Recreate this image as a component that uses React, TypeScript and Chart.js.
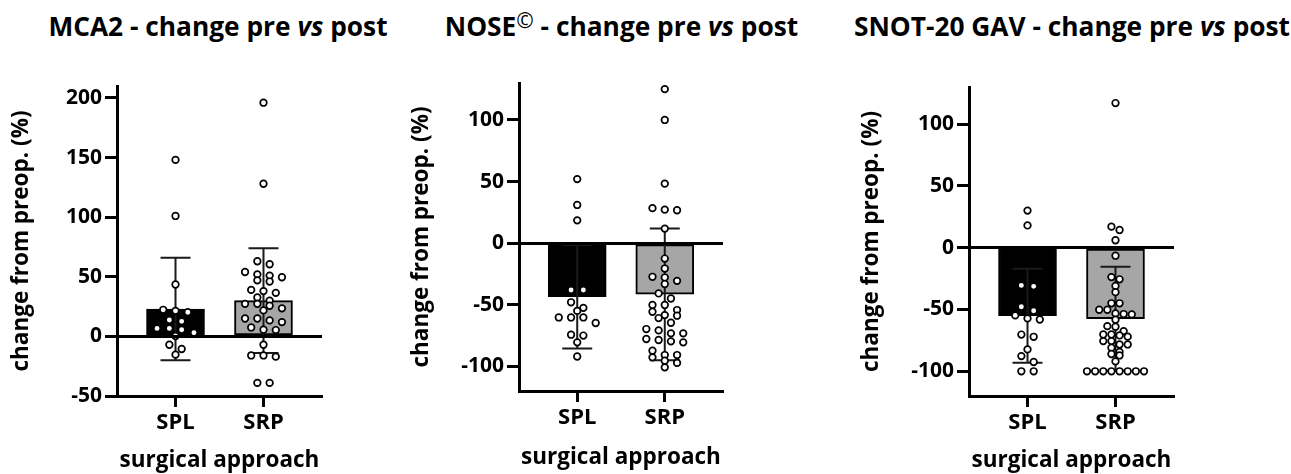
import React, { useEffect, useRef } from 'react';
import { Chart, registerables } from 'chart.js';

Chart.register(...registerables);

// ---------- data ----------
const categories = ['SPL', 'SRP'];
const xAxisTitle = 'surgical approach';
const yAxisTitle = 'change from preop. (%)';

// MCA2
const mca2Means = [23, 30];
const mca2Sds = [43, 44];
const mca2Spl = [148, 101, 43.5, 22.3, 21.4, 20.3, 13.7, 12.6, 6.7, 6.7, 5.6, 3.1, 0.3, -7, -10.6, -15.3];
const mca2Srp = [196, 128, 63, 60.5, 54, 52, 51, 49.6, 47, 46, 39, 38, 36.5, 32.6, 30, 27.3, 27.3, 25.7, 23.5, 21.8, 15, 15, 13.4, 12, 7.5, 5.6, 5.3, -7, -16, -16, -17, -39, -39];
const mca2Ticks = [-50, 0, 50, 100, 150, 200];

// NOSE
const noseMeans = [-43.5, -41.5];
const noseSds = [42, 53.5];
const noseSpl = [52, 31, 18.5, -38, -38, -48, -52.5, -55, -60.3, -60.3, -60.3, -64.8, -74.3, -75, -80.5, -92];
const noseSrp = [125, 100, 48.3, 28.4, 27.2, 26.7, 11.8, -12.5, -20.6, -27.3, -27.9, -30.6, -33.2, -40.8, -44.9, -50.2, -50.2, -54.3, -55.7, -58.4, -58.9, -60.8, -64.6, -69.7, -70.8, -73.2, -73.2, -77.8, -78.6, -79.7, -80.5, -87.3, -90.8, -90.8, -92.7, -95.4, -97.2, -100.8];
const noseTicks = [-100, -50, 0, 50, 100];

// SNOT-20 GAV
const snotMeans = [-55, -57.5];
const snotSds = [38, 42];
const snotSpl = [30, 18, -30.5, -31.3, -47.8, -51, -54.8, -57.2, -58.1, -70.3, -72.1, -82.3, -87.7, -92.5, -100, -100];
const snotSrp = [117, 17, 14.3, 6, -6.5, -23.8, -25.6, -31, -36, -45, -45, -50.2, -50.2, -53.2, -53.7, -54, -58.3, -63.5, -64, -67.5, -70.2, -70.2, -71, -72, -75.6, -75.6, -78.3, -78.3, -81, -84.3, -86, -87.2, -92, -100, -100, -100, -100, -100, -100, -100, -100];
const snotTicks = [-100, -50, 0, 50, 100];

// ---------- styling ----------
const FONT = "'Open Sans', 'Noto Sans', sans-serif";
const Y_AXIS_W = 117;
const CANVAS_TOP = 50;
const CANVAS_H = 424;
const RIGHT_PAD = 25;

type Area = { left: number; top: number; right: number; bottom: number };
type Spec = {
  key: string;
  title: React.ReactNode;
  titleCenter: number;
  area: Area;
  yMin: number;
  yMax: number;
  yTicks: number[];
  means: number[];
  sds: number[];
  groups: number[][];
  xTitlePad: number;
  yTitlePad: number;
};

const vs = <i>vs</i>;

const specs: Spec[] = [
  {
    key: 'mca2',
    title: <>MCA2 - change pre {vs} post</>,
    titleCenter: 218,
    area: { left: 117, top: 86, right: 322, bottom: 396 },
    yMin: -50, yMax: 210, yTicks: mca2Ticks,
    means: mca2Means, sds: mca2Sds, groups: [mca2Spl, mca2Srp],
    xTitlePad: 0, yTitlePad: 8,
  },
  {
    key: 'nose',
    title: <>NOSE<span style={{ fontSize: '0.8em', fontWeight: 400, verticalAlign: '0.38em', lineHeight: 0 }}>©</span> - change pre {vs} post</>,
    titleCenter: 621.5,
    area: { left: 519, top: 83, right: 723, bottom: 391 },
    yMin: -120, yMax: 130, yTicks: noseTicks,
    means: noseMeans, sds: noseSds, groups: [noseSpl, noseSrp],
    xTitlePad: 3, yTitlePad: 6,
  },
  {
    key: 'snot',
    title: <>SNOT-20 GAV - change pre {vs} post</>,
    titleCenter: 1072,
    area: { left: 969, top: 87, right: 1174, bottom: 396 },
    yMin: -120, yMax: 130, yTicks: snotTicks,
    means: snotMeans, sds: snotSds, groups: [snotSpl, snotSrp],
    xTitlePad: 0, yTitlePad: 6,
  },
];

const errorBarPlugin = {
  id: 'errorBars',
  afterDatasetDraw(chart: any, args: any, opts: any) {
    if (args.index !== 0) return;
    const meta = chart.getDatasetMeta(0);
    const ds = chart.data.datasets[0];
    const ys = chart.scales.y;
    const ctx = chart.ctx;
    ctx.save();
    ctx.strokeStyle = '#1a1a1a';
    ctx.lineWidth = 2;
    meta.data.forEach((bar: any, i: number) => {
      const m = ds.data[i].y;
      const sd = opts.sds[i];
      const x = bar.x;
      const yTop = ys.getPixelForValue(m + sd);
      const yBot = ys.getPixelForValue(m - sd);
      const half = 15;
      ctx.beginPath();
      ctx.moveTo(x, yTop);
      ctx.lineTo(x, yBot);
      ctx.moveTo(x - half, yTop);
      ctx.lineTo(x + half, yTop);
      ctx.moveTo(x - half, yBot);
      ctx.lineTo(x + half, yBot);
      ctx.stroke();
    });
    ctx.restore();
  },
};

const ROW_TOL = 6;
function layoutSwarm(chart: any, groups: number[][]) {
  const ys = chart.scales.y;
  const xs = chart.scales.x;
  const unit = xs.getPixelForValue(2) - xs.getPixelForValue(1);
  const out: { x: number; y: number }[] = [];
  groups.forEach((vals, gi) => {
    const sorted = vals
      .map((v) => ({ v, py: ys.getPixelForValue(v) }))
      .sort((a, b) => a.py - b.py);
    const rows: { v: number; py: number }[][] = [];
    sorted.forEach((p) => {
      const r = rows[rows.length - 1];
      if (r && p.py - r[0].py < ROW_TOL) r.push(p);
      else rows.push([p]);
    });
    const maxN = Math.max(...rows.map((r) => r.length));
    const s = maxN > 1 ? Math.min(12.3, 57 / (maxN - 1)) : 12.3;
    rows.forEach((r) =>
      r.forEach((p, i) => {
        out.push({ x: gi + 1 + ((i - (r.length - 1) / 2) * s) / unit, y: p.v });
      })
    );
  });
  return out;
}

function buildConfig(p: Spec): any {
  const font = (size: number) => ({ family: FONT, size, weight: 'bold' as const });
  return {
    type: 'bar',
    data: {
      datasets: [
        {
          type: 'bar',
          data: categories.map((_, i) => ({ x: i + 1, y: p.means[i] })),
          backgroundColor: ['#000000', '#a6a6a6'],
          borderColor: '#000000',
          borderWidth: 2,
          borderSkipped: false,
          barThickness: 58,
          order: 2,
        },
        {
          type: 'scatter',
          data: p.groups.flatMap((g, gi) => g.map((v) => ({ x: gi + 1, y: v }))),
          pointRadius: 3.3,
          pointHoverRadius: 3.3,
          pointBorderWidth: 1.7,
          pointBackgroundColor: '#ffffff',
          pointBorderColor: '#000000',
          clip: false,
          order: 1,
        },
      ],
    },
    options: {
      responsive: false,
      animation: false,
      events: [],
      layout: { padding: { top: p.area.top - CANVAS_TOP, right: RIGHT_PAD, left: 0, bottom: 0 } },
      plugins: {
        legend: { display: false },
        tooltip: { enabled: false },
        errorBars: { sds: p.sds },
      },
      scales: {
        x: {
          type: 'linear',
          min: 0.335,
          max: 2.665,
          offset: false,
          afterBuildTicks: (axis: any) => {
            axis.ticks = categories.map((_, i) => ({ value: i + 1 }));
          },
          afterFit: (s: any) => {
            s.height = CANVAS_H - (p.area.bottom - CANVAS_TOP);
          },
          ticks: {
            callback: (v: number) => categories[Math.round(v) - 1] ?? '',
            font: font(22),
            color: '#000',
            padding: 3,
            maxRotation: 0,
            autoSkip: false,
          },
          grid: {
            offset: false,
            color: 'rgba(0,0,0,0)',
            tickColor: '#000',
            tickLength: 11,
            tickWidth: 3,
            lineWidth: 1,
          },
          border: { display: true, color: '#000', width: 3 },
          title: {
            display: true,
            text: xAxisTitle,
            font: font(22.5),
            color: '#000',
            padding: { top: 0, bottom: p.xTitlePad },
          },
        },
        y: {
          type: 'linear',
          min: p.yMin,
          max: p.yMax,
          afterBuildTicks: (axis: any) => {
            axis.ticks = p.yTicks.map((v) => ({ value: v }));
          },
          afterFit: (s: any) => {
            s.width = Y_AXIS_W;
          },
          ticks: {
            font: font(21),
            color: '#000',
            padding: 3,
            callback: (v: number) => String(v),
          },
          grid: {
            z: 1,
            color: (c: any) => (c.tick && c.tick.value === 0 ? '#000' : 'rgba(0,0,0,0)'),
            lineWidth: 3,
            tickColor: '#000',
            tickLength: 12,
            tickWidth: 3,
          },
          border: { display: true, color: '#000', width: 3 },
          title: {
            display: true,
            text: yAxisTitle,
            font: font(22.5),
            color: '#000',
            padding: { top: p.yTitlePad, bottom: 0 },
          },
        },
      },
    },
    plugins: [errorBarPlugin],
  };
}

function Panel({ spec }: { spec: Spec }) {
  const ref = useRef<HTMLCanvasElement>(null);
  const w = spec.area.right - spec.area.left + Y_AXIS_W + RIGHT_PAD;
  const left = spec.area.left - Y_AXIS_W;
  useEffect(() => {
    if (!ref.current) return;
    const chart = new Chart(ref.current, buildConfig(spec));
    (chart.data.datasets[1] as any).data = layoutSwarm(chart, spec.groups);
    chart.update('none');
    return () => chart.destroy();
  }, []);
  return (
    <>
      <div
        style={{
          position: 'absolute',
          left: spec.titleCenter - 350,
          width: 700,
          top: 13,
          textAlign: 'center',
          fontFamily: FONT,
          fontWeight: 700,
          fontSize: 26.3,
          lineHeight: '26px',
          whiteSpace: 'nowrap',
          color: '#000',
        }}
      >
        {spec.title}
      </div>
      <canvas
        ref={ref}
        width={w}
        height={CANVAS_H}
        style={{ position: 'absolute', left, top: CANVAS_TOP, width: w, height: CANVAS_H }}
      />
    </>
  );
}

export default function App() {
  return (
    <div style={{ position: 'absolute', left: 0, top: 0, width: 1291, height: 474, background: '#fff', overflow: 'hidden' }}>
      {specs.map((s) => (
        <Panel key={s.key} spec={s} />
      ))}
    </div>
  );
}
